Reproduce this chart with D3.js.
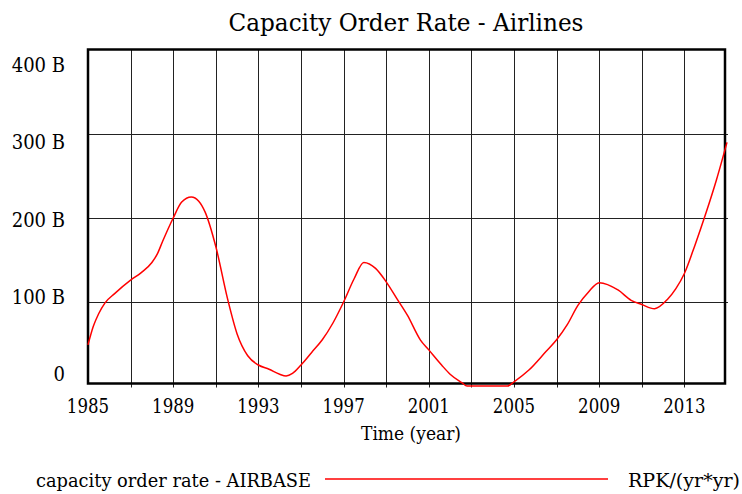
<!DOCTYPE html>
<html>
<head>
<meta charset="utf-8">
<script src="https://cdn.jsdelivr.net/npm/d3@7"></script>
<style>
  body { margin: 0; background: #fff; }
</style>
</head>
<body>
<div id="plot"></div>
<script>
var svgWidth = 742;
var svgHeight = 494;

// data (billions of RPK/(yr*yr))
var years = [1985, 1985.25, 1985.5, 1985.8, 1986.25, 1987, 1987.5, 1988, 1988.25, 1988.5,
  1989, 1989.4, 1989.85, 1990.2, 1990.5, 1991, 1991.55, 1992, 1992.5, 1993,
  1993.5, 1994, 1994.3, 1994.6, 1995, 1995.5, 1996, 1996.5, 1997, 1997.5,
  1997.95, 1998.5, 1999, 1999.5, 2000, 2000.6, 2001, 2001.6, 2002, 2002.55,
  2002.8, 2003, 2004, 2004.7, 2005, 2005.7, 2006.5, 2007, 2007.5, 2008,
  2008.5, 2009, 2009.9, 2010.5, 2011, 2011.6, 2012.2, 2012.6, 2013, 2013.5,
  2014, 2014.5, 2015];
var orderRate = [49, 71, 86, 99, 110, 126, 135, 147, 157, 172,
  200, 219, 225, 220, 207, 166, 104, 62, 36, 25,
  20, 14, 12, 15, 25, 40, 55, 75, 100, 128,
  147, 140, 124, 104, 84, 55, 43, 25, 14, 4,
  0, 0, 0, 0, 5, 19, 41, 55, 73, 96,
  112, 123, 114, 102, 97, 92, 103, 116, 134, 168,
  205, 245, 290];

var xTickLabels = [1985, 1989, 1993, 1997, 2001, 2005, 2009, 2013];
var xGridYears = [1987, 1989, 1991, 1993, 1995, 1997, 1999, 2001, 2003, 2005, 2007, 2009, 2011, 2013];
var yTickValues = [0, 100, 200, 300, 400];
var yTickLabels = ["0", "100 B", "200 B", "300 B", "400 B"];
var yGridValues = [100, 200, 300];

var data = years.map(function(d, i) { return {year: d, value: orderRate[i]}; });

// only DejaVu Serif is a serif face here; squeeze it to Times-like widths
var serif = "DejaVu Serif";

function squeeze(sel, factor) {
  sel.each(function() {
    var w = this.getComputedTextLength();
    d3.select(this)
      .attr("textLength", w * factor)
      .attr("lengthAdjust", "spacingAndGlyphs");
  });
}
function fitTo(sel, width) {
  sel.attr("textLength", width).attr("lengthAdjust", "spacingAndGlyphs");
}

var svg = d3.select("#plot")
  .append("svg")
  .attr("width", svgWidth)
  .attr("height", svgHeight)
  .style("font-family", serif);

var frame = {left: 88, right: 725, top: 49.5, bottom: 383.5};

var xScale = d3.scaleLinear().domain([1985, 2015]).range([88, 727]);
var yScale = d3.scaleLinear().domain([0, 400]).range([386, 50]);
// Vensim spreads the value labels evenly inside the frame
var yLabelScale = d3.scaleLinear().domain([0, 400]).range([381, 72]);

// title
svg.append("text")
  .attr("x", 406)
  .attr("y", 31)
  .attr("text-anchor", "middle")
  .attr("font-size", "24px")
  .text("Capacity Order Rate - Airlines")
  .call(fitTo, 355);

// vertical gridlines (with small ticks below the frame)
svg.append("g")
  .selectAll("line")
  .data(xGridYears)
  .join("line")
  .attr("x1", d => Math.round(xScale(d)) + 0.5)
  .attr("x2", d => Math.round(xScale(d)) + 0.5)
  .attr("y1", frame.top)
  .attr("y2", frame.bottom + 4)
  .attr("stroke", "#222")
  .attr("stroke-width", 1);

// horizontal gridlines
svg.append("g")
  .selectAll("line")
  .data(yGridValues)
  .join("line")
  .attr("x1", frame.left)
  .attr("x2", frame.right + 3)
  .attr("y1", d => Math.round(yScale(d)) + 0.5)
  .attr("y2", d => Math.round(yScale(d)) + 0.5)
  .attr("stroke", "#222")
  .attr("stroke-width", 1);

// frame
svg.append("rect")
  .attr("x", frame.left)
  .attr("y", frame.top)
  .attr("width", frame.right - frame.left)
  .attr("height", frame.bottom - frame.top)
  .attr("fill", "none")
  .attr("stroke", "#000")
  .attr("stroke-width", 2.5);

// x tick labels
svg.append("g")
  .selectAll("text")
  .data(xTickLabels)
  .join("text")
  .attr("x", d => xScale(d))
  .attr("y", 412.5)
  .attr("text-anchor", "middle")
  .attr("font-size", "20px")
  .text(d => d)
  .call(squeeze, 0.83);

// y tick labels
svg.append("g")
  .selectAll("text")
  .data(yTickValues)
  .join("text")
  .attr("x", 65)
  .attr("y", d => yLabelScale(d))
  .attr("text-anchor", "end")
  .attr("font-size", "20px")
  .text((d, i) => yTickLabels[i])
  .call(squeeze, 0.9);

// axis title
svg.append("text")
  .attr("x", 411)
  .attr("y", 440)
  .attr("text-anchor", "middle")
  .attr("font-size", "18px")
  .text("Time (year)")
  .call(fitTo, 100);

// the series
var line = d3.line()
  .x(d => xScale(d.year))
  .y(d => yScale(d.value))
  .curve(d3.curveMonotoneX);

svg.append("path")
  .datum(data)
  .attr("d", line)
  .attr("fill", "none")
  .attr("stroke", "red")
  .attr("stroke-width", 1.5);

// legend
svg.append("text")
  .attr("x", 36)
  .attr("y", 487)
  .attr("font-size", "18px")
  .text("capacity order rate - AIRBASE")
  .call(fitTo, 275);

svg.append("line")
  .attr("x1", 325)
  .attr("x2", 608)
  .attr("y1", 479)
  .attr("y2", 479)
  .attr("stroke", "red")
  .attr("stroke-width", 1.5);

svg.append("text")
  .attr("x", 740)
  .attr("y", 487)
  .attr("text-anchor", "end")
  .attr("font-size", "18px")
  .text("RPK/(yr*yr)")
  .call(fitTo, 112);
</script>
</body>
</html>
